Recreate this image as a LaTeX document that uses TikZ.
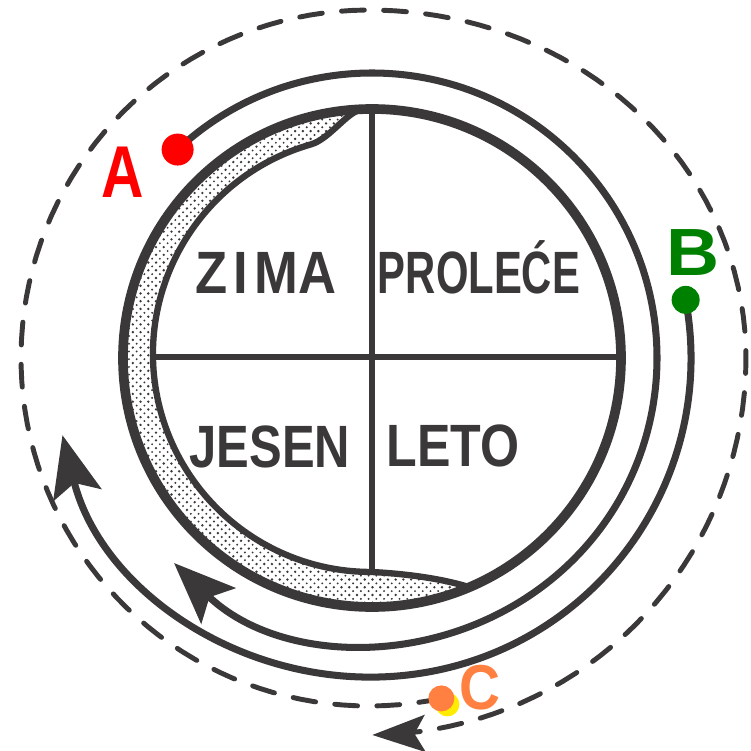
\documentclass[tikz,border=0pt]{standalone}
\usepackage{fontspec}
\usepackage{tikz}
\usetikzlibrary{arrows.meta,patterns}
\newfontfamily\labelfont{Liberation Sans}
\definecolor{inkgray}{RGB}{58,56,56}
\definecolor{markred}{RGB}{255,0,0}
\definecolor{markgreen}{RGB}{0,128,0}
\definecolor{markorange}{RGB}{255,128,64}
\definecolor{markyellow}{RGB}{255,236,0}

% coarse stipple for the crescent
\pgfdeclarepatternformonly{stipple}{\pgfqpoint{-1pt}{-1pt}}{\pgfqpoint{5pt}{5pt}}{\pgfqpoint{4.4pt}{4.4pt}}{%
    \pgfpathcircle{\pgfqpoint{0.8pt}{0.8pt}}{0.75pt}
    \pgfpathcircle{\pgfqpoint{3pt}{3pt}}{0.6pt}
    \pgfusepath{fill}
}

\begin{document}
\begin{tikzpicture}[
    x=0.02cm, y=0.02cm,
    declare function={rspiral(\t)=362.5+14.5*cos(2*max(0,min(90,\t)));},
    ringline/.style={draw=inkgray, line width=5.5pt},
    innerline/.style={draw=inkgray, line width=3.6pt},
    crossline/.style={draw=inkgray, line width=3.2pt},
    loopline/.style={draw=inkgray, line width=4pt, -{Stealth[length=35pt, width=28pt, inset=7pt]}},
    dashloop/.style={draw=inkgray, line width=2.8pt, dash pattern=on 13pt off 11pt, line cap=round, -{Stealth[length=30pt, width=21pt, inset=6pt]}},
    season/.style={font=\labelfont\bfseries\fontsize{34}{34}\selectfont, text=inkgray, inner sep=0pt, anchor=base},
    marktext/.style={font=\labelfont\bfseries\fontsize{38}{38}\selectfont, inner sep=0pt},
    dotmark/.style={circle, inner sep=0pt, minimum size=#1}
]
    \fill[white] (-372,-393) rectangle (379,358);
    \useasboundingbox (-372,-393) rectangle (379,358);

    \coordinate (hub) at (0,0);
    \coordinate (crossN) at (0,245);
    \coordinate (crossS) at (0,-214);
    \coordinate (crossW) at (-219,1);
    \coordinate (crossE) at (245,1);

    % stippled crescent between ring and quadrants
    \fill[pattern=stipple, pattern color=inkgray]
        (92:249) arc[start angle=92, end angle=293, radius=249]
        .. controls (75,-222) and (40,-216) .. (-1,-214)
        arc[start angle=270, end angle=106, radius=218]
        .. controls (-41.9,219.1) and (-23.6,248.3) .. (92:249) -- cycle;
    \draw[ringline] (hub) circle[radius=249];
    \draw[innerline] (92:249) .. controls (-23.6,248.3) and (-41.9,219.1) .. (-61.1,213.6)
        arc[start angle=106, end angle=270, radius=218]
        .. controls (40,-216) and (75,-222) .. (293:249);
    \draw[crossline] (crossN) -- (crossS);
    \draw[crossline] (crossW) -- (crossE);

    \node[season] (zima) at (-106,65) {\scalebox{0.88}[1]{Z\kern4pt I\kern4pt MA}};
    \node[season] (prolece) at (107,65) {\scalebox{0.7}[1]{PROLEĆE}};
    \node[season] (jesen) at (-102,-109) {\scalebox{0.82}[1]{JESEN}};
    \node[season] (leto) at (81,-108) {\scalebox{0.84}[1]{LETO}};

    % the three paths round the ring
    \coordinate (startA) at (133:285);
    \coordinate (startB) at (10.5:319);
    \coordinate (startC) at ({-3+rspiral(282)*cos(282)},{rspiral(282)*sin(282)});
    \draw[loopline] (startA) arc[start angle=133, end angle=-134, radius=285];
    \draw[loopline] (startB) arc[start angle=10.5, end angle=-166, radius=319];
    \draw[dashloop] plot[domain=282:-89.5, samples=160] ({-3+rspiral(\x)*cos(\x)},{rspiral(\x)*sin(\x)});

    \node[dotmark=0.64cm, fill=markred] (A) at (startA) {};
    \node[dotmark=0.56cm, fill=markgreen] (B) at (startB) {};
    \node[dotmark=0.48cm, fill=markyellow] (Cglow) at ([shift={(6,-6)}]startC) {};
    \node[dotmark=0.52cm, fill=markorange] (C) at (startC) {};

    \node[marktext, text=markred] (labelA) at (-249,186) {\scalebox{0.88}[1.1]{A}};
    \node[marktext, text=markgreen] (labelB) at (321,105) {\scalebox{1.1}[1]{B}};
    \node[marktext, text=markorange] (labelC) at (108,-330) {\scalebox{0.85}[0.95]{C}};
\end{tikzpicture}
\end{document}
